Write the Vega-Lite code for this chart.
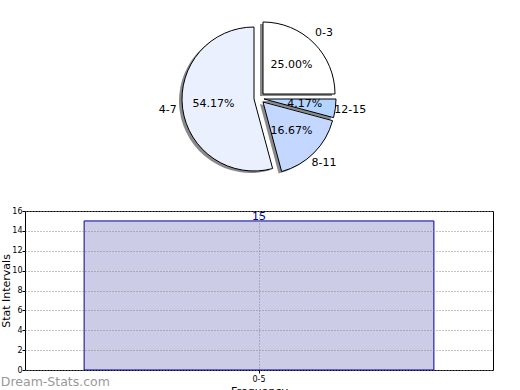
{
  "$schema": "https://vega.github.io/schema/vega-lite/v6.json",
  "padding": 0,
  "spacing": 10,
  "background": "white",
  "config": {
    "font": "DejaVu Sans",
    "view": {"stroke": null},
    "axis": {"labelFont": "DejaVu Sans", "titleFont": "DejaVu Sans"}
  },
  "vconcat": [
    {
      "width": 468,
      "height": 196,
      "data": {
        "values": [
          {"cat": "0-3", "count": 6, "order": 1, "pct": "25.00%"},
          {"cat": "12-15", "count": 1, "order": 2, "pct": "4.17%"},
          {"cat": "8-11", "count": 4, "order": 3, "pct": "16.67%"},
          {"cat": "4-7", "count": 13, "order": 4, "pct": "54.17%"}
        ]
      },
      "transform": [
        {"stack": "count", "groupby": [], "sort": [{"field": "order"}], "as": ["start", "end"]}
      ],
      "layer": [
        {"transform": [{"filter": "datum.cat === '0-3'"}], "mark": {"type": "arc", "outerRadius": 72, "color": "#8a8a8a", "xOffset": 1, "yOffset": -2}, "encoding": {"theta": {"field": "start", "type": "quantitative", "scale": {"domain": [0, 24]}}, "theta2": {"field": "end"}}},
        {"transform": [{"filter": "datum.cat === '12-15'"}], "mark": {"type": "arc", "outerRadius": 72, "color": "#8a8a8a", "xOffset": 2, "yOffset": 3}, "encoding": {"theta": {"field": "start", "type": "quantitative", "scale": {"domain": [0, 24]}}, "theta2": {"field": "end"}}},
        {"transform": [{"filter": "datum.cat === '8-11'"}], "mark": {"type": "arc", "outerRadius": 72, "color": "#8a8a8a", "xOffset": 1, "yOffset": 6}, "encoding": {"theta": {"field": "start", "type": "quantitative", "scale": {"domain": [0, 24]}}, "theta2": {"field": "end"}}},
        {"transform": [{"filter": "datum.cat === '4-7'"}], "mark": {"type": "arc", "outerRadius": 72, "color": "#8a8a8a", "xOffset": -8, "yOffset": 3}, "encoding": {"theta": {"field": "start", "type": "quantitative", "scale": {"domain": [0, 24]}}, "theta2": {"field": "end"}}},
        {"transform": [{"filter": "datum.cat === '0-3'"}], "mark": {"type": "arc", "outerRadius": 72, "stroke": "black", "strokeWidth": 1, "xOffset": 4, "yOffset": -4}, "encoding": {"theta": {"field": "start", "type": "quantitative", "scale": {"domain": [0, 24]}}, "theta2": {"field": "end"}, "color": {"field": "cat", "type": "nominal", "legend": null, "scale": {"domain": ["0-3", "4-7", "8-11", "12-15"], "range": ["#ffffff", "#eaf0fe", "#c4d8ff", "#b3d4ff"]}}}},
        {"transform": [{"filter": "datum.cat === '12-15'"}], "mark": {"type": "arc", "outerRadius": 72, "stroke": "black", "strokeWidth": 1, "xOffset": 5, "yOffset": 1}, "encoding": {"theta": {"field": "start", "type": "quantitative", "scale": {"domain": [0, 24]}}, "theta2": {"field": "end"}, "color": {"field": "cat", "type": "nominal", "legend": null}}},
        {"transform": [{"filter": "datum.cat === '8-11'"}], "mark": {"type": "arc", "outerRadius": 72, "stroke": "black", "strokeWidth": 1, "xOffset": 4, "yOffset": 4}, "encoding": {"theta": {"field": "start", "type": "quantitative", "scale": {"domain": [0, 24]}}, "theta2": {"field": "end"}, "color": {"field": "cat", "type": "nominal", "legend": null}}},
        {"transform": [{"filter": "datum.cat === '4-7'"}], "mark": {"type": "arc", "outerRadius": 72, "stroke": "black", "strokeWidth": 1, "xOffset": -5, "yOffset": 1}, "encoding": {"theta": {"field": "start", "type": "quantitative", "scale": {"domain": [0, 24]}}, "theta2": {"field": "end"}, "color": {"field": "cat", "type": "nominal", "legend": null}}},
        {"mark": {"type": "text", "radius": 46, "fontSize": 11, "color": "black"}, "encoding": {"theta": {"field": "count", "type": "quantitative", "stack": true}, "order": {"field": "order", "type": "quantitative"}, "text": {"field": "pct", "type": "nominal"}}},
        {"mark": {"type": "text", "radius": 92, "fontSize": 11, "color": "black"}, "encoding": {"theta": {"field": "count", "type": "quantitative", "stack": true}, "order": {"field": "order", "type": "quantitative"}, "text": {"field": "cat", "type": "nominal"}}}
      ]
    },
    {
      "width": 468,
      "height": 159,
      "title": {"text": "Dream-Stats.com", "orient": "bottom", "anchor": "start", "offset": -20, "color": "#999999", "fontSize": 12.5, "fontWeight": "normal", "font": "DejaVu Sans"},
      "view": {"stroke": "black", "strokeWidth": 1},
      "data": {"values": [{"interval": "0-5", "freq": 15}]},
      "encoding": {
        "x": {"field": "interval", "type": "nominal", "scale": {"paddingInner": 0, "paddingOuter": 0.169},
          "axis": {"title": "Frequency", "labelAngle": 0, "bandPosition": 0.5, "zindex": 1, "labelFontSize": 8, "titleFontSize": 11, "titleFontWeight": "normal", "titlePadding": 2, "labelPadding": 2, "tickSize": 3, "domain": false, "grid": true, "gridDash": [1, 2], "gridColor": "#888888", "tickColor": "black", "labelColor": "black", "titleColor": "black"}},
        "y": {"field": "freq", "type": "quantitative", "scale": {"domain": [0, 16]},
          "axis": {"title": "Stat Intervals", "values": [0, 2, 4, 6, 8, 10, 12, 14, 16], "zindex": 1, "labelOverlap": false, "labelFontSize": 8, "titleFontSize": 11, "titleFontWeight": "normal", "titlePadding": 0, "labelPadding": 0, "tickSize": 3, "domain": false, "grid": true, "gridDash": [1, 2], "gridColor": "#888888", "tickColor": "black", "labelColor": "black", "titleColor": "black"}}
      },
      "layer": [
        {"mark": {"type": "bar", "fill": "#ccccE6", "stroke": "#000099", "strokeWidth": 1}},
        {
          "mark": {"type": "text", "color": "#000099", "fontSize": 11, "baseline": "bottom", "dy": 1},
          "encoding": {"text": {"field": "freq", "type": "quantitative"}}
        }
      ]
    }
  ]
}
